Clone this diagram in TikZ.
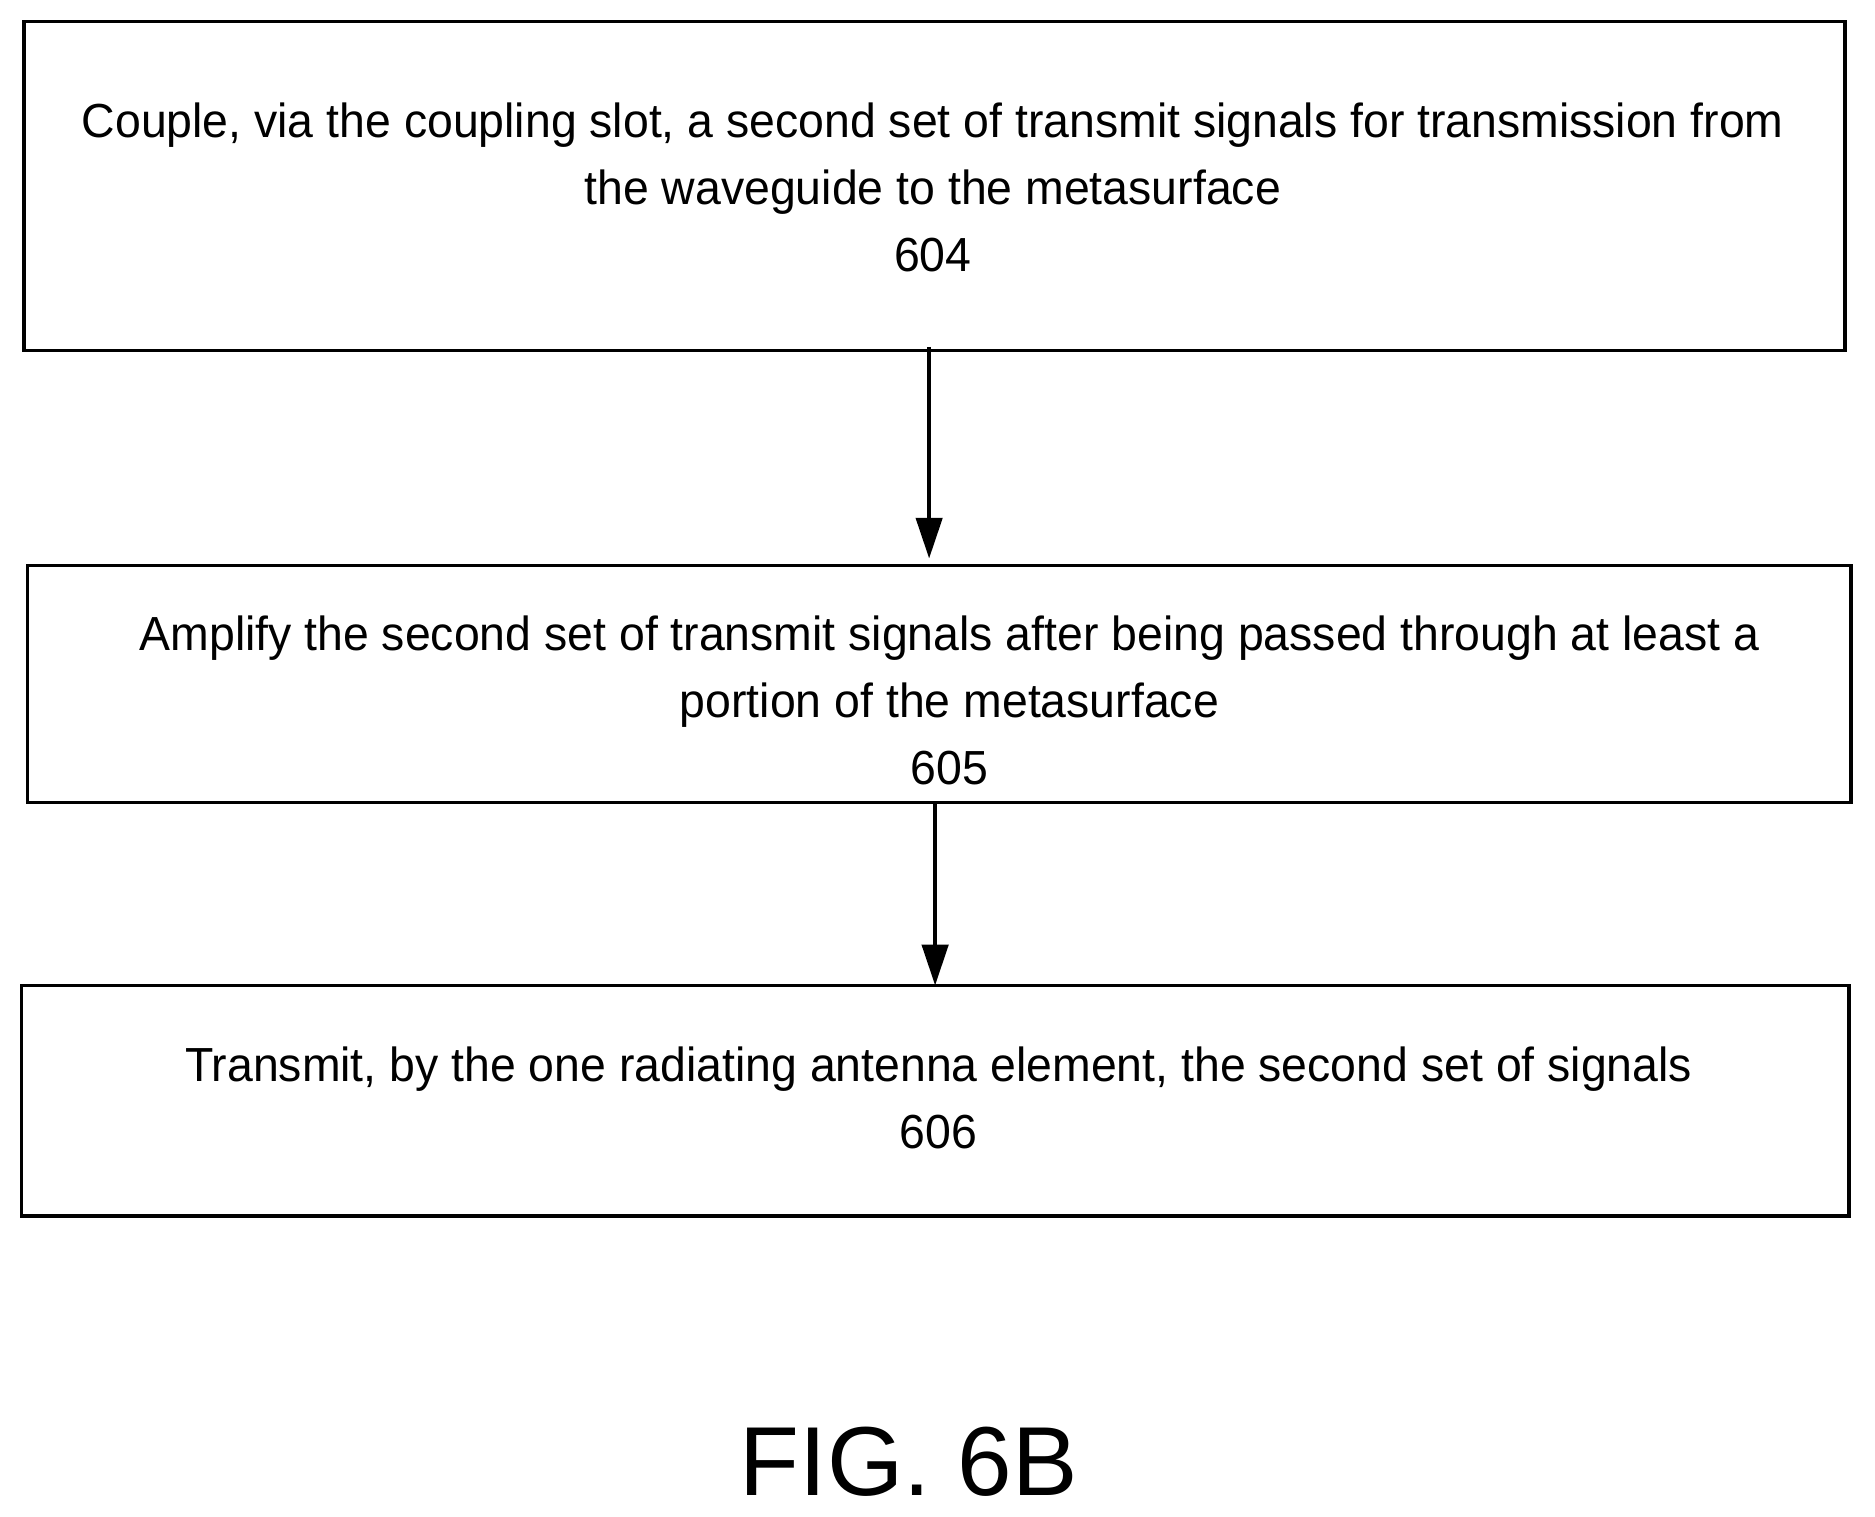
\documentclass[tikz,border=0pt]{standalone}
\usepackage{fontspec}
\setmainfont{Liberation Sans}
\newfontfamily\narrowf[FakeStretch=0.97]{Liberation Sans}
\usetikzlibrary{arrows.meta}
\begin{document}
\begin{tikzpicture}[x=1pt,y=-1pt,
  boxs/.style={draw,line width=3pt},
  txt/.style={align=center,font=\narrowf\fontsize{40}{56}\selectfont},
  arr/.style={line width=3pt,-{Triangle[length=34pt,width=22pt]}}]
\useasboundingbox (0,0) rectangle (1568,1268);
\draw[boxs] (20,18) rectangle (1543,293);
\draw[boxs] (23,473) rectangle (1548,671);
\draw[boxs] (18,824) rectangle (1546,1017);
\node[txt] (a) at (780,157) {Couple, via the coupling slot, a second set of transmit signals for transmission from\\the waveguide to the metasurface\\604};
\node[txt] (b) at (794,586) {Amplify the second set of transmit signals after being passed through at least a\\portion of the metasurface\\605};
\node[txt] (c) at (785,918) {Transmit, by the one radiating antenna element, the second set of signals\\606};
\coordinate (a1) at (777,290); \coordinate (a2) at (777,467);
\coordinate (b1) at (782,671); \coordinate (b2) at (782,824);
\draw[arr] (a1) -- (a2);
\draw[arr] (b1) -- (b2);
\node[font=\fontsize{82}{86}\selectfont] (f) at (760,1222) {FIG. 6B};
\end{tikzpicture}
\end{document}
